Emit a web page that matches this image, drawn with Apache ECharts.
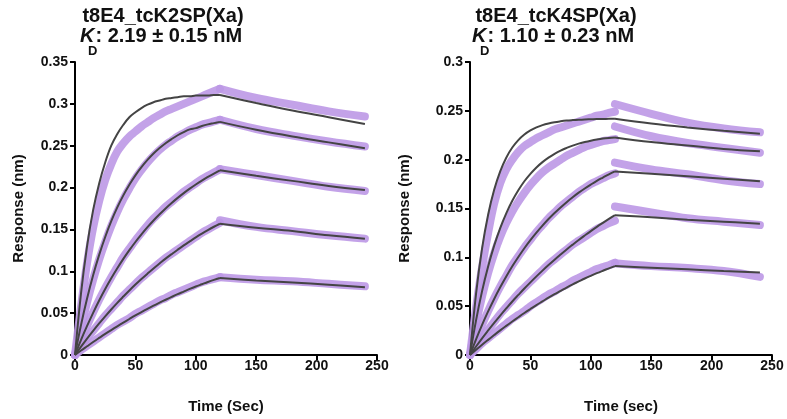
<!DOCTYPE html>
<html><head><meta charset="utf-8">
<script src="https://cdn.jsdelivr.net/npm/echarts@6/dist/echarts.min.js"></script>
<style>html,body{margin:0;padding:0;background:#fff}#c{width:787px;height:419px}</style>
</head><body><div id="c"></div>
<script>
// association phase sampled every 5 s (0..120), dissociation every 30 s (120..240)
const assocT = [0,5,10,15,20,25,30,35,40,45,50,55,60,65,70,75,80,85,90,95,100,105,110,115,120];
const dissocT = [120,150,180,210,240];

// Left panel: t8E4_tcK2SP(Xa)
const L1FitA = [0,.074,.130,.173,.205,.230,.250,.264,.275,.284,.290,.295,.299,.302,.304,.306,.307,.308,.309,.309,.310,.310,.310,.3105,.3105];
const L1FitD = [.3105,.301,.292,.284,.276];
const L1DatA = [0,.058,.110,.152,.184,.209,.228,.243,.253,.261,.267,.273,.278,.283,.287,.291,.294,.297,.300,.303,.306,.309,.312,.315,.318];
const L1DatD = [.318,.307,.299,.291,.285];
const L2FitA = [0,.036,.0675,.0953,.1196,.141,.1598,.1763,.1907,.2034,.2146,.2244,.233,.2406,.2472,.253,.258,.2625,.2663,.2695,.271,.2735,.2755,.277,.2785];
const L2FitD = [.2785,.269,.261,.254,.247];
const L2DatA = [0,.033,.063,.090,.114,.135,.154,.171,.186,.199,.211,.221,.230,.238,.245,.251,.256,.261,.265,.269,.272,.275,.277,.279,.281];
const L2DatD = [.281,.27,.262,.255,.249];
const L3FitA = [0,.018,.0347,.0504,.0651,.0788,.0916,.1036,.1148,.1252,.135,.1441,.1527,.1607,.1681,.1751,.1816,.1877,.1934,.1987,.2037,.2084,.2127,.2168,.2206];
const L3FitD = [.2206,.214,.208,.202,.197];
const L3DatA = [0,.018,.035,.051,.066,.080,.093,.105,.117,.127,.137,.146,.155,.163,.170,.177,.183,.189,.195,.200,.205,.210,.214,.218,.222];
const L3DatD = [.222,.215,.208,.201,.196];
const L4FitA = [0,.010,.0196,.0288,.0377,.0462,.0544,.0623,.0698,.0771,.0841,.0908,.0972,.1034,.1093,.1151,.1205,.1258,.1309,.1357,.1404,.1449,.1492,.1532,.1568];
const L4FitD = [.1568,.152,.148,.143,.139];
const L4DatA = [0,.010,.020,.029,.038,.047,.055,.063,.071,.078,.085,.092,.098,.104,.110,.116,.121,.126,.131,.136,.141,.146,.150,.154,.158];
const L4DatD = [.161,.153,.148,.143,.139];
const L5FitA = [0,.0053,.0104,.0155,.0204,.0252,.0298,.0343,.0387,.043,.0472,.0512,.0551,.0589,.0625,.066,.0694,.0727,.0758,.0789,.0818,.0845,.0872,.0897,.092];
const L5FitD = [.092,.089,.0865,.084,.081];
const L5DatA = [0,.006,.011,.016,.021,.026,.031,.036,.040,.044,.049,.053,.057,.061,.065,.068,.072,.075,.078,.081,.084,.087,.089,.091,.093];
const L5DatD = [.093,.09,.088,.085,.082];

// Right panel: t8E4_tcK4SP(Xa)
const R1FitA = [0,.0627,.1092,.1436,.1691,.188,.202,.2124,.22,.2257,.2299,.2331,.2354,.2371,.2384,.2393,.24,.2405,.2409,.2412,.2414,.2416,.2417,.2418,.2419];
const R1FitD = [.2419,.237,.233,.2295,.2265];
const R1DatA = [0,.048,.090,.125,.155,.176,.190,.200,.208,.214,.218,.222,.225,.228,.231,.233,.235,.237,.239,.241,.243,.245,.246,.248,.249];
const R1DatD = [.257,.247,.238,.232,.228];
const R2FitA = [0,.0355,.0654,.0907,.112,.13,.1451,.1579,.1687,.1779,.1855,.192,.1975,.2021,.206,.2093,.212,.2144,.2164,.218,.2194,.2206,.2216,.2223,.2228];
const R2FitD = [.2228,.218,.2145,.211,.2085];
const R2DatA = [0,.032,.060,.084,.104,.121,.135,.147,.157,.166,.174,.181,.187,.192,.196,.200,.204,.207,.210,.213,.215,.217,.219,.220,.221];
const R2DatD = [.234,.224,.217,.212,.207];
const R3FitA = [0,.0159,.0308,.0446,.0574,.0693,.0804,.0908,.1003,.1093,.1176,.1253,.1325,.1392,.1454,.1511,.1565,.1615,.1662,.1705,.1745,.1783,.1817,.185,.188];
const R3FitD = [.188,.1855,.183,.1805,.178];
const R3DatA = [0,.016,.031,.045,.058,.070,.081,.092,.101,.110,.118,.126,.133,.140,.146,.152,.157,.162,.167,.171,.175,.178,.181,.184,.186];
const R3DatD = [.197,.190,.185,.179,.175];
const R4FitA = [0,.0087,.0171,.0251,.0329,.0404,.0477,.0548,.0615,.0681,.0744,.0805,.0864,.0921,.0976,.1029,.1081,.113,.1178,.1224,.1269,.1312,.1353,.1393,.1432];
const R4FitD = [.1432,.141,.1385,.1365,.1343];
const R4DatA = [0,.009,.018,.026,.034,.042,.049,.056,.063,.069,.075,.081,.087,.093,.098,.103,.108,.113,.117,.121,.125,.129,.132,.135,.1375];
const R4DatD = [.152,.146,.140,.1365,.133];
const R5FitA = [0,.0053,.0105,.0155,.0204,.0252,.0298,.0343,.0387,.043,.0471,.0511,.0549,.0587,.0623,.0657,.0691,.0723,.0753,.0783,.0811,.0838,.0863,.0887,.091];
const R5FitD = [.091,.0893,.0877,.086,.0845];
const R5DatA = [0,.006,.012,.017,.022,.027,.032,.037,.041,.045,.050,.054,.058,.062,.065,.069,.072,.076,.079,.082,.085,.088,.090,.092,.0945];
const R5DatD = [.094,.091,.089,.086,.080];

const leftData = [[L1DatA,L1DatD],[L2DatA,L2DatD],[L3DatA,L3DatD],[L4DatA,L4DatD],[L5DatA,L5DatD]];
const leftFit = [[L1FitA,L1FitD],[L2FitA,L2FitD],[L3FitA,L3FitD],[L4FitA,L4FitD],[L5FitA,L5FitD]];
const rightData = [[R1DatA,R1DatD],[R2DatA,R2DatD],[R3DatA,R3DatD],[R4DatA,R4DatD],[R5DatA,R5DatD]];
const rightFit = [[R1FitA,R1FitD],[R2FitA,R2FitD],[R3FitA,R3FitD],[R4FitA,R4FitD],[R5FitA,R5FitD]];

const FONT = 'Liberation Sans, Arial, sans-serif';
const pair = (t, v) => t.map((x, i) => [x, v[i]]);

function dataSeries(idx, t, v) {
  return {type:'line', xAxisIndex:idx, yAxisIndex:idx, data:pair(t,v), smooth:0.4,
    showSymbol:false, silent:true, z:2,
    lineStyle:{color:'#bd98e5', width:8, opacity:0.9, cap:'round', join:'round'}};
}
function fitSeries(idx, t, v) {
  return {type:'line', xAxisIndex:idx, yAxisIndex:idx, data:pair(t,v), smooth:0.4,
    showSymbol:false, silent:true, z:5,
    lineStyle:{color:'#444444', width:2}};
}
const series = [];
[[leftData,0],[rightData,1]].forEach(([set, idx]) => set.forEach(([a,d]) => {
  series.push(dataSeries(idx, assocT, a)); series.push(dataSeries(idx, dissocT, d));
}));
[[leftFit,0],[rightFit,1]].forEach(([set, idx]) => set.forEach(([a,d]) => {
  series.push(fitSeries(idx, assocT, a)); series.push(fitSeries(idx, dissocT, d));
}));

function xAxis(gi, name) {
  return {type:'value', gridIndex:gi, min:0, max:250, interval:50,
    name:name, nameLocation:'middle', nameGap:44,
    nameTextStyle:{fontFamily:FONT, fontWeight:'bold', fontSize:15, color:'#111'},
    axisLine:{lineStyle:{color:'#000', width:2}},
    axisTick:{show:true, length:5, lineStyle:{color:'#000', width:2}},
    axisLabel:{fontFamily:FONT, fontWeight:'bold', fontSize:14, color:'#111', margin:4},
    splitLine:{show:false}};
}
function yAxis(gi, max, gap) {
  return {type:'value', gridIndex:gi, min:0, max:max, interval:0.05,
    name:'Response (nm)', nameLocation:'middle', nameGap:gap,
    nameTextStyle:{fontFamily:FONT, fontWeight:'bold', fontSize:15, color:'#111'},
    axisLine:{show:true, lineStyle:{color:'#000', width:2}},
    axisTick:{show:true, length:5, lineStyle:{color:'#000', width:2}},
    axisLabel:{fontFamily:FONT, fontWeight:'bold', fontSize:14, color:'#111', margin:7},
    splitLine:{show:false}};
}

function titleLines(cx, x0, l1, kd) {
  const base = {fontFamily:FONT, fontWeight:'bold', fill:'#111'};
  return [
    {type:'text', x:cx, y:6, style:Object.assign({text:l1, fontSize:20, align:'center', verticalAlign:'top'}, base)},
    {type:'text', x:x0, y:26, style:{text:'{k|K}{t|' + kd + '}', align:'left', verticalAlign:'top',
      rich:{
        k:Object.assign({fontStyle:'italic', fontSize:20}, base),
        t:Object.assign({fontSize:20, padding:[0,0,0,1]}, base)
      }}},
    {type:'text', x:x0 + 8, y:45, style:Object.assign({text:'D', fontSize:13, align:'left', verticalAlign:'top'}, base)}
  ];
}

const chart = echarts.init(document.getElementById('c'), null, {renderer:'canvas'});
chart.setOption({
  animation:false,
  backgroundColor:'#fff',
  grid:[
    {left:75, top:62, width:302, height:301},
    {left:470, top:62, width:302, height:301}
  ],
  xAxis:[xAxis(0,'Time (Sec)'), xAxis(1,'Time (sec)')],
  yAxis:[yAxis(0,0.35,49), yAxis(1,0.3,58)],
  series:series,
  graphic:[].concat(
    titleLines(163, 80, 't8E4_tcK2SP(Xa)', ': 2.19 ± 0.15 nM'),
    titleLines(556, 472, 't8E4_tcK4SP(Xa)', ': 1.10 ± 0.23 nM'))
});
</script></body></html>
